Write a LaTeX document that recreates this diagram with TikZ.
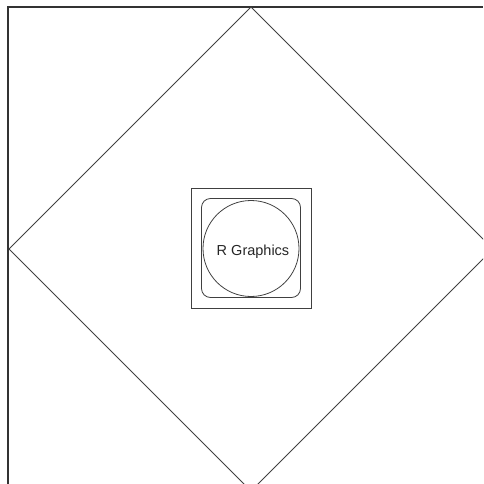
\documentclass[tikz,border=0pt]{standalone}
\usepackage{fontspec}
\setmainfont{Liberation Sans}
\begin{document}
\begin{tikzpicture}[
    x=1pt, y=-1pt,
    frame/.style={draw=black!80, line width=1.5pt},
    outline/.style={draw=black!75, line width=0.8pt},
    label/.style={font=\fontsize{14.5}{16}\selectfont, text=black!85, inner sep=0pt},
]
    \useasboundingbox (0,0) rectangle (483,484);

    % Window frame
    \draw[frame] (8,484) -- (8,7) -- (483,7);

    % Diamond, cut by the page edges
    \begin{scope}
        \clip (0,0) rectangle (483,484);
        \draw[outline] (251,7) -- (493,249) -- (251,491) -- (9,249) -- cycle;
    \end{scope}

    % Nested shapes in the middle
    \node[outline, rectangle, minimum size=120pt, inner sep=0pt] (box) at (251,248.5) {};
    \node[outline, rectangle, rounded corners=9pt, minimum size=99pt, inner sep=0pt] (roundbox) at (251,248) {};
    \node[outline, circle, minimum size=96pt, inner sep=0pt] (logo) at (251,248.5) {};
    \node[label, anchor=base] (title) at (253,255.5) {R Graphics};
\end{tikzpicture}
\end{document}
